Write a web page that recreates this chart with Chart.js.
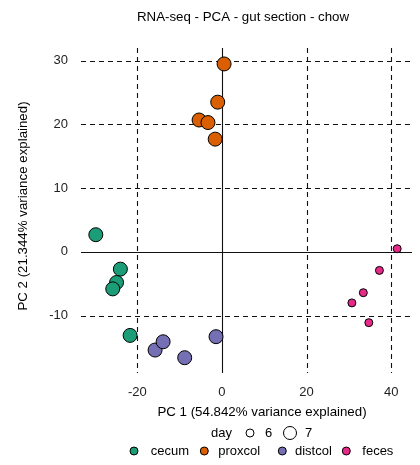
<!DOCTYPE html>
<html>
<head>
<meta charset="utf-8">
<title>RNA-seq PCA</title>
<script src="https://cdn.jsdelivr.net/npm/chart.js@4/dist/chart.umd.min.js"></script>
<style>
  html, body { margin: 0; padding: 0; background: #fff; }
</style>
</head>
<body>
<canvas id="pca" width="420" height="465"></canvas>
<script>
// PCA scores per gut section (PC1, PC2) and sampling day
const groups = ['cecum', 'proxcol', 'distcol', 'feces'];
const groupColors = ['#1B9E77', '#D95F02', '#7570B3', '#E7298A'];

const cecumPC1 = [-29.8, -24.0, -24.9, -25.8, -21.7];
const cecumPC2 = [2.7, -2.7, -4.8, -5.8, -13.1];
const cecumDay = [7, 7, 7, 7, 7];

const proxcolPC1 = [0.5, -1.0, -5.4, -3.3, -1.6];
const proxcolPC2 = [29.5, 23.5, 20.7, 20.3, 17.7];
const proxcolDay = [7, 7, 7, 7, 7];

const distcolPC1 = [-15.8, -13.9, -8.8, -1.4];
const distcolPC2 = [-15.4, -14.1, -16.6, -13.3];
const distcolDay = [7, 7, 7, 7];

const fecesPC1 = [41.4, 37.2, 33.4, 30.7, 34.7];
const fecesPC2 = [0.5, -2.9, -6.4, -8.0, -11.1];
const fecesDay = [6, 6, 6, 6, 6];

const xTicks = [-20, 0, 20, 40];
const yTicks = [-10, 0, 10, 20, 30];
const dayLevels = [6, 7];

const pc1 = [cecumPC1, proxcolPC1, distcolPC1, fecesPC1];
const pc2 = [cecumPC2, proxcolPC2, distcolPC2, fecesPC2];
const days = [cecumDay, proxcolDay, distcolDay, fecesDay];

const FONT = "'Liberation Sans', Arial, sans-serif";
const dayRadius = d => (d === 6 ? 4 : 7);

const datasets = groups.map((g, i) => ({
  label: g,
  data: pc1[i].map((v, j) => ({ x: v, y: pc2[i][j] })),
  backgroundColor: groupColors[i],
  borderColor: '#000',
  borderWidth: 1,
  pointRadius: days[i].map(dayRadius),
  pointHoverRadius: days[i].map(dayRadius)
}));

// dashed reference lines, solid at zero, plus titles and the two-row legend
const pcaDecor = {
  id: 'pcaDecor',
  beforeDatasetsDraw(chart) {
    const { ctx, chartArea: a, scales: { x, y } } = chart;
    ctx.save();
    ctx.strokeStyle = '#111';
    ctx.lineWidth = 1.1;
    xTicks.forEach(v => {
      const px = Math.round(x.getPixelForValue(v)) + 0.5;
      ctx.setLineDash(v === 0 ? [] : [5, 4]);
      ctx.beginPath();
      ctx.moveTo(px, a.top);
      ctx.lineTo(px, a.bottom);
      ctx.stroke();
    });
    yTicks.forEach(v => {
      const py = Math.round(y.getPixelForValue(v)) + 0.5;
      ctx.setLineDash(v === 0 ? [] : [5, 4]);
      ctx.beginPath();
      ctx.moveTo(a.left, py);
      ctx.lineTo(a.right, py);
      ctx.stroke();
    });
    ctx.restore();
  },
  afterDraw(chart) {
    const ctx = chart.ctx;
    ctx.save();
    ctx.fillStyle = '#000';
    ctx.font = '13.3px ' + FONT;
    ctx.textBaseline = 'middle';

    ctx.textAlign = 'center';
    ctx.fillText('RNA-seq - PCA - gut section - chow', 243, 17);
    ctx.fillText('PC 1 (54.842% variance explained)', 262, 412);

    ctx.save();
    ctx.translate(23, 206);
    ctx.rotate(-Math.PI / 2);
    ctx.fillText('PC 2 (21.344% variance explained)', 0, 0);
    ctx.restore();

    // day (size) legend
    ctx.font = '13px ' + FONT;
    ctx.textAlign = 'left';
    ctx.fillText('day', 211, 433);
    const dayKeys = [{ cx: 250, tx: 265 }, { cx: 290, tx: 305 }];
    dayLevels.forEach((d, i) => {
      ctx.beginPath();
      ctx.arc(dayKeys[i].cx, 433, d === 6 ? 4 : 6.5, 0, Math.PI * 2);
      ctx.fillStyle = '#fff';
      ctx.fill();
      ctx.strokeStyle = '#000';
      ctx.lineWidth = 1;
      ctx.stroke();
      ctx.fillStyle = '#000';
      ctx.fillText(String(d), dayKeys[i].tx, 433);
    });

    // section (colour) legend
    const dotX = [134, 204.3, 282.3, 346.3];
    const textX = [150.7, 218.3, 295, 362.3];
    groups.forEach((g, i) => {
      ctx.beginPath();
      ctx.arc(dotX[i], 451, 4, 0, Math.PI * 2);
      ctx.fillStyle = groupColors[i];
      ctx.fill();
      ctx.strokeStyle = '#000';
      ctx.lineWidth = 1;
      ctx.stroke();
      ctx.fillStyle = '#000';
      ctx.fillText(g, textX[i], 451);
    });
    ctx.restore();
  }
};

new Chart(document.getElementById('pca'), {
  type: 'scatter',
  data: { datasets },
  options: {
    responsive: false,
    animation: false,
    layout: { padding: { top: 48, left: 30, right: 8, bottom: 52 } },
    plugins: {
      legend: { display: false },
      title: { display: false },
      tooltip: { enabled: false }
    },
    scales: {
      x: {
        type: 'linear',
        min: -33.3,
        max: 44.9,
        grid: { display: false, drawTicks: false },
        border: { display: false },
        ticks: { color: '#222', font: { size: 13, family: FONT }, padding: 12 },
        afterBuildTicks: s => { s.ticks = xTicks.map(v => ({ value: v })); },
        afterFit: s => { s.height = 40; }
      },
      y: {
        type: 'linear',
        min: -19,
        max: 32,
        grid: { display: false, drawTicks: false },
        border: { display: false },
        ticks: { color: '#222', font: { size: 13, family: FONT }, padding: 13 },
        afterBuildTicks: s => { s.ticks = yTicks.map(v => ({ value: v })); },
        afterFit: s => { s.width = 51; }
      }
    }
  },
  plugins: [pcaDecor]
});
</script>
</body>
</html>
